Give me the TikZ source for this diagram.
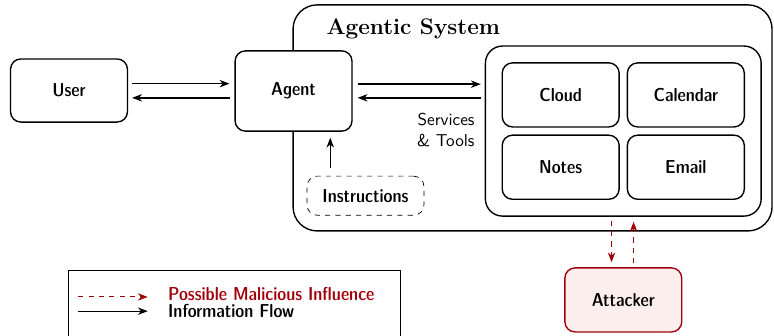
\documentclass[tikz,border=0pt]{standalone}
\usepackage{amsmath,amssymb}
\usepackage{tikz}
\usetikzlibrary{positioning}
\usetikzlibrary{fit,arrows.meta}
\usepackage{xcolor}

\definecolor{malred}{RGB}{160,0,10}
\definecolor{attfill}{RGB}{253,238,238}

\newcommand{\boxfont}{\sffamily\fontseries{sbc}\fontsize{10.9}{13}\selectfont}

\tikzset{
  box/.style={draw, thick, fill=white, rounded corners=6pt, minimum width=2.39cm, minimum height=1.31cm,
    font=\boxfont},
  flow/.style={thick, -{Stealth[length=2mm,width=1.5mm,inset=0.6mm]}},
  mal/.style={thick, dashed, malred, -{Stealth[length=2mm,width=1.5mm,inset=0.6mm]}}
}

\begin{document}
\begin{tikzpicture}
\useasboundingbox (0,0) rectangle (15.82,-6.85);
% outer system frame
\draw[thick, rounded corners=14pt] (5.99,-0.10) rectangle (15.78,-4.72);
\node[anchor=west, font=\fontsize{13.1}{15}\selectfont\bfseries] (title) at (6.55,-0.59) {Agentic System};

\node[box, minimum height=1.29cm] (user) at (1.41,-1.85) {User};
\node[box, minimum height=1.64cm] (agent) at (6.00,-1.86) {Agent};
\node[box, dashed, thin, minimum height=0.80cm] (instr) at (7.47,-4.00) {Instructions};

% services
\node[box] (cloud) at (11.46,-1.94) {Cloud};
\node[box, right=0.14cm of cloud] (calendar) {Calendar};
\node[box, below=0.14cm of cloud] (notes) {Notes};
\node[box, below=0.14cm of calendar] (email) {Email};
\node[draw, thick, rounded corners=10pt, inner sep=0.33cm, fit=(cloud)(calendar)(notes)(email)] (services) {};

\node[box, draw=malred, fill=attfill] (attacker) at (12.74,-6.13) {Attacker};

% user <-> agent
\draw[flow, shorten >=0.1cm, shorten <=0.08cm] ([yshift=0.14cm]user.east) -- ([yshift=0.14cm]user.east -| agent.west);
\draw[flow, shorten >=0.08cm, shorten <=0.1cm] ([yshift=-0.14cm]agent.west) -- ([yshift=-0.14cm]agent.west -| user.east);

% agent <-> services
\draw[flow, shorten >=0.08cm, shorten <=0.1cm] ([yshift=0.14cm]agent.east) -- ([yshift=0.14cm]agent.east -| services.west);
\draw[flow, shorten >=0.1cm, shorten <=0.08cm] ([yshift=-0.14cm]agent.east -| services.west) -- ([yshift=-0.14cm]agent.east);
\coordinate (st) at ([xshift=-0.2cm, yshift=-0.45cm]agent.east -| services.west);
\node[anchor=north east, align=right, font=\sffamily, inner sep=0pt] (stlabel) at (st) {Services\\\& Tools};

% instructions -> agent
\draw[flow, shorten >=0.12cm, shorten <=0.16cm] (instr.north -| 6.75,0) -- (agent.south -| 6.75,0);

% attacker <-> services
\draw[mal, shorten >=0.1cm, shorten <=0.08cm] ([xshift=-0.24cm]attacker.north |- services.south) -- ([xshift=-0.24cm]attacker.north);
\draw[mal, shorten >=0.1cm, shorten <=0.08cm] ([xshift=0.21cm]attacker.north) -- ([xshift=0.21cm]attacker.north |- services.south);

% legend
\node[draw, thin, minimum width=6.79cm, minimum height=2cm, anchor=north west] (legend) at (1.39,-5.52) {};
\coordinate (l1) at (1.60,-6.07);
\coordinate (l2) at (1.60,-6.36);
\draw[mal, semithick] (l1) -- ++(1.42,0);
\draw[flow, semithick] (l2) -- ++(1.42,0);
\node[anchor=base west, font=\boxfont, text=malred, inner sep=0pt] (lmal) at (3.43,-6.15) {Possible Malicious Influence};
\node[anchor=base west, font=\boxfont, inner sep=0pt] (lflow) at (3.43,-6.48) {Information Flow};
\end{tikzpicture}
\end{document}
